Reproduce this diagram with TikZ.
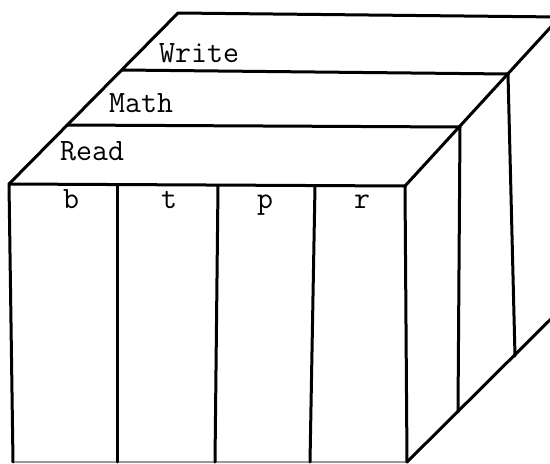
\documentclass[tikz,border=0pt]{standalone}
\usepackage{fontspec}
\tikzset{
  edge/.style={line width=3pt, line cap=round, line join=round, black},
  faint/.style={line width=1.6pt, black!40},
  lbl/.style={inner sep=0pt, font=\fontsize{31}{31}\selectfont\ttfamily, anchor=base west},
  col/.style={inner sep=0pt, font=\fontsize{31}{31}\selectfont\ttfamily, anchor=base},
}
\begin{document}
\begin{tikzpicture}[x=1pt,y=-1pt]
\useasboundingbox (0,0) rectangle (550,464);
\fill[white] (0,0) rectangle (550,464);
\begin{scope}
\clip (0,0) rectangle (550,464);
% key points
\coordinate (FTL) at (9,184);
\coordinate (FTR) at (405,186);
\coordinate (FBL) at (13,462);
\coordinate (FBR) at (407,462);
\coordinate (L1) at (67,125);
\coordinate (R1) at (460,127);
\coordinate (L2) at (122,70);
\coordinate (R2) at (508,74);
\coordinate (L3) at (178,13);
\coordinate (R3) at (560,17);
\coordinate (B1) at (458,412);
\coordinate (B2) at (515,356);
\coordinate (B3) at (570,300);
% front column dividers
\coordinate (c1t) at (117,186);
\coordinate (c1b) at (117,462);
\coordinate (c2t) at (218,186);
\coordinate (c2b) at (215,462);
\coordinate (c3t) at (315,186);
\coordinate (c3b) at (310,462);
% faint bottom line
\draw[faint] (FBL) -- (FBR);
% front face
\draw[edge] (FBL) -- (FTL) -- (FTR) -- (FBR);
\draw[edge] (c1t) -- (c1b);
\draw[edge] (c2t) -- (c2b);
\draw[edge] (c3t) -- (c3b);
% top layers
\draw[edge] (FTL) -- (L3) -- (R3);
\draw[edge] (L1) -- (R1);
\draw[edge] (L2) -- (R2);
\draw[edge] (FTR) -- (R3);
% right side
\draw[edge] (R1) -- (B1);
\draw[edge] (R2) -- (B2);
\draw[edge] (FBR) -- (B3);
\end{scope}
% labels
\node[lbl] (write) at (159,62) {Write};
\node[lbl] (math) at (109,112) {Math};
\node[lbl] (read) at (60,160) {Read};
\node[col] (b) at (71,208) {b};
\node[col] (t) at (169,208) {t};
\node[col] (p) at (265,208) {p};
\node[col] (r) at (362,208) {r};
\end{tikzpicture}
\end{document}
